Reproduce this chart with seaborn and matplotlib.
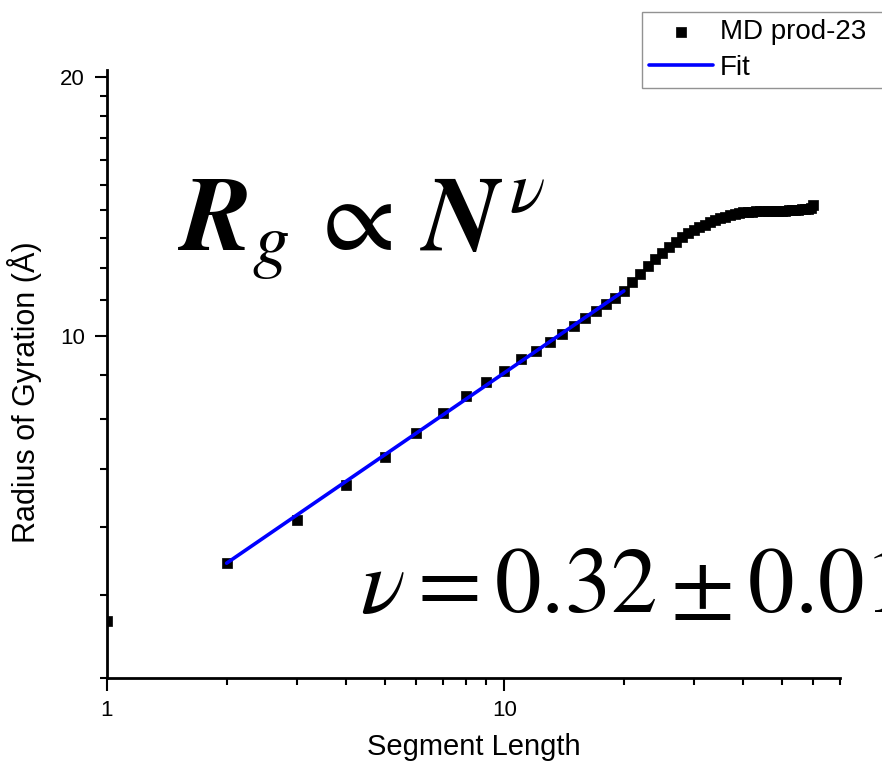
import matplotlib
matplotlib.use("Agg")
import matplotlib.pyplot as plt
import matplotlib.ticker as mticker
import seaborn as sns
import pandas as pd

# segment length N and radius of gyration (Å)
seg_length = list(range(1, 61))
rg_values = [
    4.66, 5.44, 6.11, 6.71, 7.23, 7.70, 8.14, 8.52, 8.85, 9.11,
    9.40, 9.61, 9.83, 10.06, 10.28, 10.49, 10.70, 10.89, 11.08, 11.28,
    11.55, 11.80, 12.05, 12.28, 12.48, 12.68, 12.86, 13.02, 13.16, 13.28,
    13.38, 13.47, 13.55, 13.63, 13.70, 13.76, 13.81, 13.85, 13.89, 13.92,
    13.94, 13.95, 13.96, 13.96, 13.96, 13.97, 13.97, 13.98, 13.98, 13.99,
    13.99, 14.00, 14.01, 14.01, 14.02, 14.03, 14.04, 14.06, 14.10, 14.18,
]

# power-law fit (straight on log-log), end points
fit_x = [2, 20]
fit_y = [5.44, 11.28]

x_major = [1, 10]
x_minor = [2, 3, 4, 5, 6, 7, 8, 9, 20, 30, 40, 50, 60, 70]
y_major = [10, 20]
y_minor = [4, 5, 6, 7, 8, 9, 11, 12, 13, 14, 15, 16, 17, 18, 19]


def main() -> None:
    sns.set_style("ticks")
    plt.rcParams["font.family"] = ["Liberation Sans", "DejaVu Sans"]
    plt.rcParams["mathtext.fontset"] = "stix"
    for key in ("text.color", "axes.labelcolor", "xtick.color", "ytick.color"):
        plt.rcParams[key] = "black"

    fig = plt.figure(figsize=(8.82, 7.72), dpi=100)
    ax = fig.add_axes([107 / 882, 1 - 678 / 772, 733 / 882, 608.3 / 772])

    df = pd.DataFrame({"N": seg_length, "Rg": rg_values})
    fit_df = pd.DataFrame({"N": fit_x, "Rg": fit_y})

    sns.scatterplot(data=df, x="N", y="Rg", marker="s", s=52, color="black",
                    edgecolor="black", linewidth=0.5, ax=ax, label="MD prod-23", zorder=2)
    sns.lineplot(data=fit_df, x="N", y="Rg", color="#0000FF", linewidth=2.6,
                 ax=ax, label="Fit", zorder=3)

    ax.set_xscale("log")
    ax.set_yscale("log")
    ax.set_xlim(1, 70)
    ax.set_ylim(4, 20.4)

    ax.xaxis.set_major_locator(mticker.FixedLocator(x_major))
    ax.xaxis.set_minor_locator(mticker.FixedLocator(x_minor))
    ax.yaxis.set_major_locator(mticker.FixedLocator(y_major))
    ax.yaxis.set_minor_locator(mticker.FixedLocator(y_minor))
    ax.xaxis.set_major_formatter(mticker.FormatStrFormatter("%d"))
    ax.yaxis.set_major_formatter(mticker.FormatStrFormatter("%d"))
    ax.xaxis.set_minor_formatter(mticker.NullFormatter())
    ax.yaxis.set_minor_formatter(mticker.NullFormatter())

    ax.tick_params(which="major", direction="out", length=9, width=1.5,
                   labelsize=16, pad=7, color="black", labelcolor="black")
    ax.tick_params(which="minor", direction="out", length=5, width=1.5, color="black")

    sns.despine(ax=ax)
    for side in ("left", "bottom"):
        ax.spines[side].set_linewidth(2)
        ax.spines[side].set_color("black")

    ax.set_xlabel("Segment Length", fontsize=21, color="black")
    ax.set_ylabel("Radius of Gyration (Å)", fontsize=22, color="black")
    ax.xaxis.set_label_coords(0.5, -0.09)
    ax.yaxis.set_label_coords(-0.089, 0.47)

    leg = ax.legend(
        loc="upper left",
        bbox_to_anchor=(642 / 882, 1 - 88 / 772, 300 / 882, 76 / 772),
        bbox_transform=fig.transFigure,
        mode="expand",
        fontsize=20,
        frameon=True,
        fancybox=False,
        edgecolor="#777777",
        borderpad=0.25,
        labelspacing=0.35,
        handlelength=2.3,
        handletextpad=0.25,
        borderaxespad=0,
        markerscale=1.0,
    )
    leg.get_frame().set_linewidth(1.0)
    # pull handles a bit closer to the frame edge
    leg._legend_box.align = "left"

    fig.text(178 / 882, 1 - 250 / 772, r"$\mathbfit{R}_{g}\,\propto\,\mathbfit{N}^{\,\nu}$",
             fontsize=76, ha="left", va="baseline", color="black")
    fig.text(360 / 882, 1 - 612 / 772, r"$\nu = 0.32 \pm 0.01$",
             fontsize=67, ha="left", va="baseline", color="black")

    fig.savefig("out.png", dpi=100, facecolor="white")
    plt.close(fig)


if __name__ == "__main__":
    main()
